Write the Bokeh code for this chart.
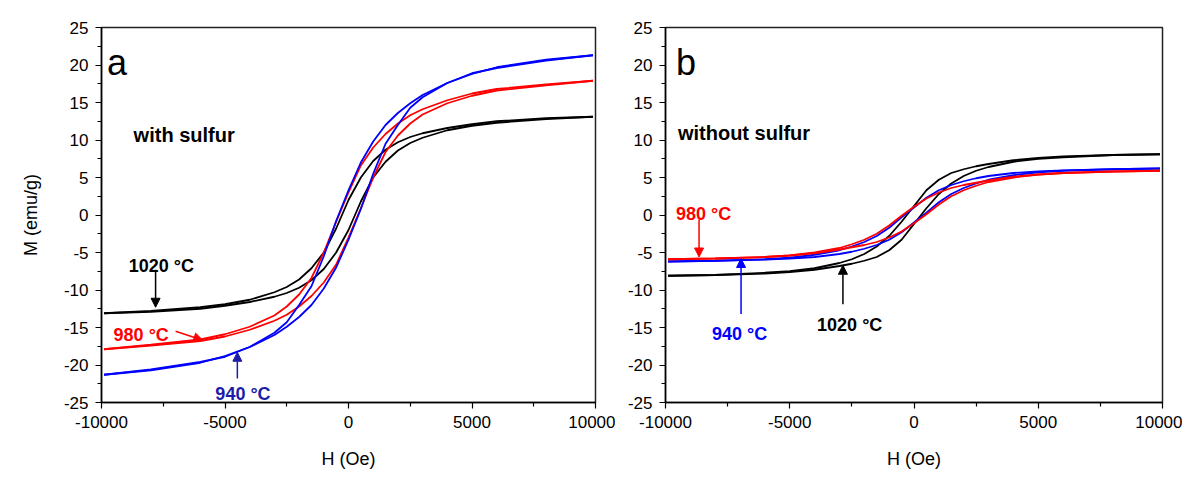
from bokeh.plotting import figure
from bokeh.models import Label, Arrow, NormalHead, FixedTicker, Range1d
from bokeh.layouts import row
from bokeh.embed import file_html
from bokeh.resources import INLINE

# ---------------- data ----------------
H_FIELD = [-9900, -8000, -6000, -5000, -4000, -3000, -2500, -2000, -1500, -1000, -500, 0,
           500, 1000, 1500, 2000, 2500, 3000, 4000, 5000, 6000, 8000, 9900]

# panel a (with sulfur): descending (upper) and ascending (lower) branches
a_940_upper = [-21.3, -20.6, -19.6, -18.9, -17.6, -15.7, -14.3, -12.0, -9.5, -5.5, -0.8, 3.3,
               7.0, 9.8, 12.0, 13.6, 14.9, 16.0, 17.6, 18.8, 19.7, 20.7, 21.3]
a_940_lower = [-21.3, -20.7, -19.7, -18.8, -17.6, -16.0, -14.9, -13.6, -12.0, -9.8, -7.0, -3.3,
               0.8, 5.5, 9.5, 12.0, 14.3, 15.7, 17.6, 18.9, 19.6, 20.6, 21.3]
a_980_upper = [-17.9, -17.3, -16.6, -15.9, -14.9, -13.4, -12.2, -10.6, -8.4, -5.0, -0.9, 3.0,
               6.6, 9.0, 10.8, 12.2, 13.3, 14.1, 15.3, 16.2, 16.8, 17.4, 17.9]
a_980_lower = [-17.9, -17.4, -16.8, -16.2, -15.3, -14.1, -13.3, -12.2, -10.8, -9.0, -6.6, -3.0,
               0.9, 5.0, 8.4, 10.6, 12.2, 13.4, 14.9, 15.9, 16.6, 17.3, 17.9]
a_1020_upper = [-13.1, -12.8, -12.3, -11.9, -11.3, -10.3, -9.6, -8.6, -7.1, -5.0, -1.8, 2.0,
                5.0, 7.2, 8.7, 9.7, 10.4, 10.9, 11.6, 12.1, 12.5, 12.9, 13.1]
a_1020_lower = [-13.1, -12.9, -12.5, -12.1, -11.6, -10.9, -10.4, -9.7, -8.7, -7.2, -5.0, -2.0,
                1.8, 5.0, 7.1, 8.6, 9.6, 10.3, 11.3, 11.9, 12.3, 12.8, 13.1]

# panel b (without sulfur)
b_940_upper = [-6.2, -6.1, -5.9, -5.7, -5.3, -4.7, -4.2, -3.6, -2.8, -1.7, -0.3, 1.0,
               2.3, 3.3, 4.0, 4.5, 4.9, 5.2, 5.6, 5.8, 5.95, 6.1, 6.2]
b_940_lower = [-6.2, -6.1, -5.95, -5.8, -5.6, -5.2, -4.9, -4.5, -4.0, -3.3, -2.3, -1.0,
               0.3, 1.7, 2.8, 3.6, 4.2, 4.7, 5.3, 5.7, 5.9, 6.1, 6.2]
b_980_upper = [-5.9, -5.8, -5.6, -5.4, -5.0, -4.4, -3.9, -3.3, -2.5, -1.4, -0.1, 1.1,
               2.2, 3.0, 3.6, 4.0, 4.3, 4.6, 5.1, 5.4, 5.6, 5.8, 5.9]
b_980_lower = [-5.9, -5.8, -5.6, -5.4, -5.1, -4.6, -4.3, -4.0, -3.6, -3.0, -2.2, -1.1,
               0.1, 1.4, 2.5, 3.3, 3.9, 4.4, 5.0, 5.4, 5.6, 5.8, 5.9]
b_1020_upper = [-8.1, -8.0, -7.7, -7.5, -7.1, -6.4, -5.9, -5.2, -4.2, -2.8, -0.9, 1.2,
                3.3, 4.7, 5.6, 6.1, 6.5, 6.8, 7.3, 7.6, 7.8, 8.0, 8.1]
b_1020_lower = [-8.1, -8.0, -7.8, -7.6, -7.3, -6.8, -6.5, -6.1, -5.6, -4.7, -3.3, -1.2,
                0.9, 2.8, 4.2, 5.2, 5.9, 6.4, 7.1, 7.5, 7.7, 8.0, 8.1]

X_TICKS = [-10000, -5000, 0, 5000, 10000]
X_MINOR = [-7500, -2500, 2500, 7500]
Y_TICKS = [-25, -20, -15, -10, -5, 0, 5, 10, 15, 20, 25]
Y_MINOR = [-22.5, -17.5, -12.5, -7.5, -2.5, 2.5, 7.5, 12.5, 17.5, 22.5]

FONT = "Liberation Sans"
BLACK = "#000000"
RED = "#ff0000"
BLUE = "#0000ff"
NAVY = "#1c1ca8"


def make_fig(width, min_left, ylabel):
    p = figure(width=width, height=478,
               x_range=Range1d(-10000, 10000), y_range=Range1d(-25, 25),
               output_backend="svg", toolbar_location=None,
               min_border_left=min_left, min_border_right=20,
               min_border_top=27, min_border_bottom=76)
    p.grid.visible = False
    p.outline_line_color = "#222222"
    p.outline_line_width = 1.5
    p.background_fill_color = "white"
    p.border_fill_color = "white"

    p.xaxis.ticker = FixedTicker(ticks=X_TICKS, minor_ticks=X_MINOR)
    p.yaxis.ticker = FixedTicker(ticks=Y_TICKS, minor_ticks=Y_MINOR)
    p.xaxis.major_label_overrides = {t: str(t) for t in X_TICKS}
    p.yaxis.major_label_overrides = {t: str(t) for t in Y_TICKS}
    for ax in (p.xaxis, p.yaxis):
        ax.axis_line_width = 1.5
        ax.axis_line_color = BLACK
        ax.major_tick_line_color = BLACK
        ax.minor_tick_line_color = BLACK
        ax.major_tick_line_width = 1.2
        ax.minor_tick_line_width = 1.2
        ax.major_tick_out = 6
        ax.major_tick_in = 0
        ax.minor_tick_out = 4
        ax.minor_tick_in = 0
        ax.major_label_text_font = FONT
        ax.major_label_text_font_size = "17px"
        ax.major_label_text_color = BLACK
        ax.major_label_standoff = 7
        ax.axis_label_text_font = FONT
        ax.axis_label_text_font_size = "18px"
        ax.axis_label_text_font_style = "normal"
        ax.axis_label_text_color = BLACK
    p.xaxis.axis_label = "H (Oe)"
    p.xaxis.axis_label_standoff = 18
    if ylabel:
        p.yaxis.axis_label = ylabel
        p.yaxis.axis_label_standoff = 20
    return p


def add_loop(p, upper, lower, color):
    p.line(H_FIELD, upper, line_color=color, line_width=1.8)
    p.line(H_FIELD, lower, line_color=color, line_width=1.8)


def add_label(p, x, y, text, color, size, style="bold"):
    p.add_layout(Label(x=x, y=y, text=text, text_color=color, text_font=FONT,
                       text_font_size=size, text_font_style=style,
                       text_align="left", text_baseline="alphabetic"))


def add_arrow(p, x0, y0, x1, y1, color):
    p.add_layout(Arrow(end=NormalHead(size=9, fill_color=color, line_color=color),
                       x_start=x0, y_start=y0, x_end=x1, y_end=y1,
                       line_color=color, line_width=1.5))


# ---------------- panel a ----------------
pa = make_fig(615, 101, "M (emu/g)")
add_loop(pa, a_1020_upper, a_1020_lower, BLACK)
add_loop(pa, a_980_upper, a_980_lower, RED)
add_loop(pa, a_940_upper, a_940_lower, BLUE)
add_label(pa, -9780, 20.4, "a", BLACK, "36px", "normal")
add_label(pa, -8700, 10.7, "with sulfur", BLACK, "20px")
add_label(pa, -8900, -6.8, "1020 °C", BLACK, "18px")
add_arrow(pa, -7810, -7.3, -7810, -12.3, BLACK)
add_label(pa, -9510, -16.0, "980 °C", RED, "18px")
add_arrow(pa, -7000, -15.5, -5900, -16.7, RED)
add_label(pa, -5390, -23.9, "940 °C", NAVY, "18px")
add_arrow(pa, -4500, -21.8, -4500, -18.3, NAVY)

# ---------------- panel b ----------------
pb = make_fig(567, 50, None)
add_loop(pb, b_1020_upper, b_1020_lower, BLACK)
add_loop(pb, b_940_upper, b_940_lower, BLUE)
add_loop(pb, b_980_upper, b_980_lower, RED)
add_label(pb, -9580, 20.4, "b", BLACK, "36px", "normal")
add_label(pb, -9500, 11.0, "without sulfur", BLACK, "20px")
add_label(pb, -9580, 0.1, "980 °C", RED, "18px")
add_arrow(pb, -8650, -0.6, -8650, -5.6, RED)
add_label(pb, -8130, -15.8, "940 °C", BLUE, "18px")
add_arrow(pb, -6960, -13.2, -6960, -5.8, BLUE)
add_label(pb, -3900, -14.6, "1020 °C", BLACK, "18px")
add_arrow(pb, -2860, -11.9, -2860, -6.7, BLACK)

layout = row(pa, pb)
open("out.html", "w").write(file_html(layout, INLINE))
